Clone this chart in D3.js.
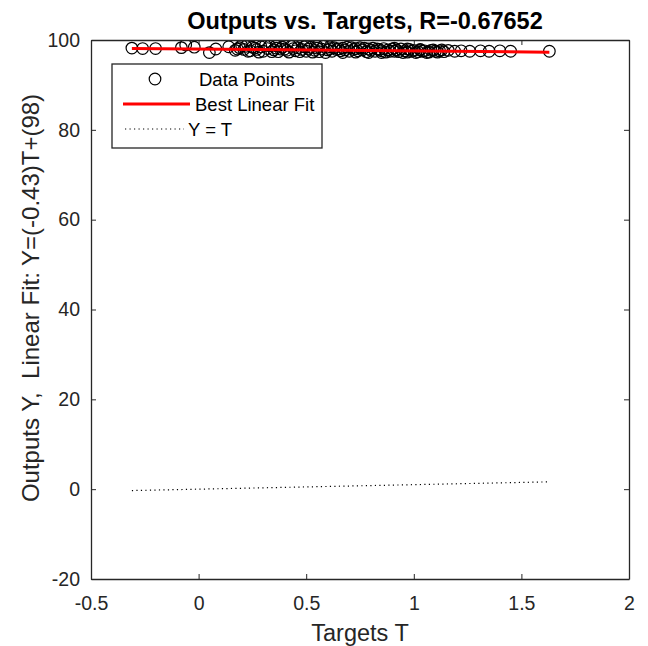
<!DOCTYPE html>
<html>
<head>
<meta charset="utf-8">
<script src="https://cdn.jsdelivr.net/npm/d3@7"></script>
<style>
  body { margin: 0; background: #fff; }
  svg { font-family: "Liberation Sans", Arial, sans-serif; }
</style>
</head>
<body>
<div id="chart"></div>
<script>
// Regression plot: outputs vs targets, with best linear fit and Y = T reference.

const targets = [
  -0.31, -0.26, -0.20, -0.08, -0.06, -0.02, 0.05, 0.08, 0.14, 0.17,
  0.19, 0.21, 0.22, 0.24, 0.26, 0.27, 0.29, 0.30, 0.32, 0.33,
  0.35, 0.36, 0.37, 0.39, 0.40, 0.41, 0.43, 0.44, 0.45, 0.46,
  0.48, 0.49, 0.50, 0.51, 0.52, 0.54, 0.55, 0.56, 0.57, 0.58,
  0.60, 0.61, 0.62, 0.63, 0.64, 0.66, 0.67, 0.68, 0.69, 0.70,
  0.72, 0.73, 0.74, 0.75, 0.76, 0.78, 0.79, 0.80, 0.81, 0.82,
  0.84, 0.85, 0.86, 0.87, 0.88, 0.90, 0.91, 0.92, 0.93, 0.94,
  0.96, 0.97, 0.98, 0.99, 1.00, 1.02, 1.03, 1.04, 1.05, 1.07,
  1.08, 1.10, 1.12, 1.14, 1.16, 1.19, 1.22, 1.26, 1.31, 1.35,
  1.40, 1.45, 1.63,
  0.18, 0.20, 0.23, 0.25, 0.28, 0.31, 0.34, 0.36, 0.38, 0.42,
  0.44, 0.47, 0.50, 0.53, 0.55, 0.59, 0.61, 0.65, 0.67, 0.71,
  0.73, 0.77, 0.79, 0.83, 0.85, 0.89, 0.91, 0.95, 0.97, 1.01,
  1.03, 1.06, 1.09, 1.11, 1.13
];

const outputs = [
  98.2, 98.1, 98.1, 98.3, 98.9, 98.4, 97.2, 98.0, 98.5, 97.7,
  98.3, 97.9, 98.6, 97.6, 98.2, 97.9, 98.5, 97.5, 98.1, 98.7,
  97.8, 98.2, 97.4, 98.4, 98.0, 97.7, 98.6, 98.1, 97.6, 98.3,
  97.9, 98.5, 97.5, 98.0, 98.4, 97.7, 98.2, 97.4, 98.0, 98.6,
  97.8, 98.1, 97.5, 98.3, 97.9, 97.6, 98.2, 97.8, 98.4, 97.5,
  97.9, 98.1, 97.6, 98.3, 97.8, 97.4, 98.0, 97.7, 98.2, 97.5,
  97.9, 97.6, 98.1, 97.3, 97.8, 98.0, 97.5, 97.8, 97.4, 98.0,
  97.6, 97.3, 97.9, 97.5, 97.7, 97.4, 97.8, 97.5, 97.6, 97.3,
  97.7, 97.5, 97.6, 97.4, 97.7, 97.5, 97.6, 97.5, 97.6, 97.5,
  97.6, 97.5, 97.5,
  98.0, 98.8, 97.5, 98.4, 97.3, 98.8, 97.4, 98.7, 98.0, 97.3,
  98.8, 97.4, 98.7, 97.3, 98.6, 97.2, 98.5, 98.0, 97.2, 98.3,
  97.3, 98.2, 97.2, 98.0, 97.2, 97.5, 98.2, 97.2, 98.0, 97.2,
  97.9, 97.2, 97.8, 97.3, 97.8
];

// fit: Y = slope*T + intercept
const fitSlope = -0.43;
const fitIntercept = 98;

const xTicks = [-0.5, 0, 0.5, 1, 1.5, 2];
const yTicks = [-20, 0, 20, 40, 60, 80, 100];

const titleText = "Outputs vs. Targets, R=-0.67652";
const xLabel = "Targets T";
const yLabel = "Outputs Y,  Linear Fit: Y=(-0.43)T+(98)";
const legendLabels = ["Data Points", "Best Linear Fit", "Y = T"];

// ---------- layout ----------
const W = 648, H = 646;
const margin = { top: 40, right: 19, bottom: 67, left: 91 };
const iw = W - margin.left - margin.right;
const ih = H - margin.top - margin.bottom;
const axisColor = "#262626";

const svgEl = d3.select("#chart").append("svg")
  .attr("width", W)
  .attr("height", H);

const g = svgEl.append("g")
  .attr("transform", `translate(${margin.left},${margin.top})`);

const x = d3.scaleLinear().domain([-0.5, 2]).range([0, iw]);
const y = d3.scaleLinear().domain([-20, 100]).range([ih, 0]);

// clip so the marks stay in the box
svgEl.append("defs").append("clipPath").attr("id", "clip")
  .append("rect").attr("width", iw).attr("height", ih);

const plot = g.append("g").attr("clip-path", "url(#clip)");

const tMin = d3.min(targets), tMax = d3.max(targets);

// Y = T reference (dotted)
plot.append("line")
  .attr("x1", x(tMin)).attr("y1", y(tMin))
  .attr("x2", x(tMax)).attr("y2", y(tMax))
  .attr("stroke", "#000")
  .attr("stroke-width", 1.2)
  .attr("stroke-dasharray", "1.2,3.3");

// data points
const pts = targets.map((t, i) => ({ t, o: outputs[i] }));
plot.selectAll(".pt")
  .data(pts)
  .enter()
  .append("circle")
  .attr("class", "pt")
  .attr("cx", d => x(d.t))
  .attr("cy", d => y(d.o))
  .attr("r", 5.8)
  .attr("fill", "none")
  .attr("stroke", "#000")
  .attr("stroke-width", 1.2);

// best linear fit
plot.append("line")
  .attr("x1", x(tMin)).attr("y1", y(fitSlope * tMin + fitIntercept))
  .attr("x2", x(tMax)).attr("y2", y(fitSlope * tMax + fitIntercept))
  .attr("stroke", "#ff0000")
  .attr("stroke-width", 3);

// ---------- axes (MATLAB style box, inward ticks) ----------
const tickLen = 5;
const fmt = d => String(d);

function styleAxis(sel) {
  sel.select(".domain").attr("stroke", axisColor).attr("stroke-width", 1.3);
  sel.selectAll(".tick line").attr("stroke", axisColor);
  sel.selectAll(".tick text")
    .attr("fill", axisColor)
    .style("font-size", "19.5px")
    .style("font-family", "Liberation Sans, Arial, sans-serif");
}

g.append("g")
  .attr("transform", `translate(0,${ih})`)
  .call(d3.axisBottom(x).tickValues(xTicks).tickFormat(fmt).tickSizeInner(-tickLen).tickSizeOuter(0).tickPadding(17))
  .call(styleAxis);

g.append("g")
  .call(d3.axisTop(x).tickValues(xTicks).tickFormat("").tickSizeInner(-tickLen).tickSizeOuter(0))
  .call(styleAxis);

g.append("g")
  .call(d3.axisLeft(y).tickValues(yTicks).tickFormat(fmt).tickSizeInner(-tickLen).tickSizeOuter(0).tickPadding(11))
  .call(styleAxis);

g.append("g")
  .attr("transform", `translate(${iw},0)`)
  .call(d3.axisRight(y).tickValues(yTicks).tickFormat("").tickSizeInner(-tickLen).tickSizeOuter(0))
  .call(styleAxis);

// ---------- labels ----------
svgEl.append("text")
  .attr("x", 365)
  .attr("y", 29)
  .attr("text-anchor", "middle")
  .attr("fill", "#000")
  .style("font-size", "23.5px")
  .style("font-weight", "bold")
  .text(titleText);

svgEl.append("text")
  .attr("x", margin.left + iw / 2)
  .attr("y", 641)
  .attr("text-anchor", "middle")
  .attr("fill", axisColor)
  .style("font-size", "23.5px")
  .text(xLabel);

svgEl.append("text")
  .attr("transform", `translate(39,298) rotate(-90)`)
  .attr("text-anchor", "middle")
  .attr("fill", axisColor)
  .style("font-size", "24px")
  .style("white-space", "pre")
  .text(yLabel);

// ---------- legend ----------
const leg = svgEl.append("g").attr("transform", "translate(112,64)");

leg.append("rect")
  .attr("width", 210)
  .attr("height", 84)
  .attr("fill", "#fff")
  .attr("stroke", axisColor)
  .attr("stroke-width", 1.3);

leg.append("circle")
  .attr("cx", 43).attr("cy", 15).attr("r", 5.8)
  .attr("fill", "none").attr("stroke", "#000").attr("stroke-width", 1.2);

leg.append("line")
  .attr("x1", 11).attr("x2", 78).attr("y1", 40).attr("y2", 40)
  .attr("stroke", "#ff0000").attr("stroke-width", 3);

leg.append("line")
  .attr("x1", 13).attr("x2", 72).attr("y1", 65).attr("y2", 65)
  .attr("stroke", "#000").attr("stroke-width", 1.2)
  .attr("stroke-dasharray", "1.2,3.3");

const legX = [87, 83, 76];
leg.selectAll(".leg-text")
  .data(legendLabels)
  .enter()
  .append("text")
  .attr("class", "leg-text")
  .attr("x", (d, i) => legX[i])
  .attr("y", (d, i) => 22 + i * 25)
  .attr("fill", "#000")
  .style("font-size", "18.5px")
  .text(d => d);
</script>
</body>
</html>
